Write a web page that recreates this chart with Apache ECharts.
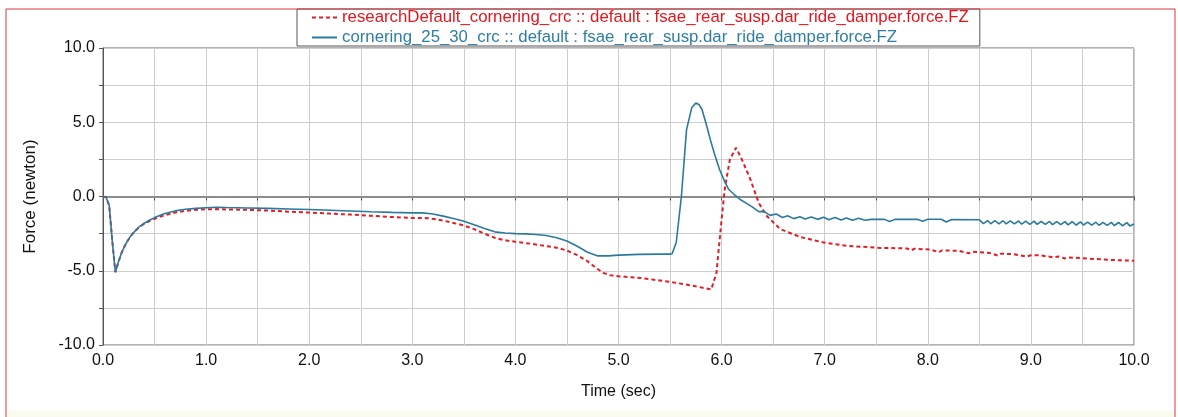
<!DOCTYPE html>
<html>
<head>
<meta charset="utf-8">
<script src="https://cdn.jsdelivr.net/npm/echarts@6/dist/echarts.min.js"></script>
<style>html,body{margin:0;padding:0;background:#fff;}#c{width:1178px;height:417px;}</style>
</head>
<body>
<div id="c"></div>
<script>
const redName = 'researchDefault_cornering_crc :: default : fsae_rear_susp.dar_ride_damper.force.FZ';
const blueName = 'cornering_25_30_crc :: default : fsae_rear_susp.dar_ride_damper.force.FZ';
const xTitle = 'Time (sec)';
const yTitle = 'Force (newton)';

const redTime = [0.00,0.03,0.06,0.09,0.12,0.15,0.18,0.22,0.26,0.30,0.35,0.40,0.45,0.50,0.60,0.70,0.80,0.90,1.00,1.10,1.20,1.40,1.60,1.80,2.00,2.20,2.40,2.60,2.80,3.00,3.15,3.25,3.35,3.50,3.60,3.70,3.80,3.90,4.00,4.15,4.30,4.40,4.50,4.60,4.70,4.78,4.85,4.92,5.00,5.21,5.50,5.70,5.90,5.95,6.00,6.03,6.08,6.14,6.19,6.28,6.36,6.44,6.57,6.76,6.99,7.21,7.54,7.80,7.84,7.87,8.02,8.11,8.14,8.30,8.40,8.43,8.60,8.68,8.71,8.83,8.96,9.00,9.09,9.22,9.27,9.33,9.36,9.48,9.80,10.00];
const redForce = [0,-0.05,-0.6,-3.0,-5.1,-4.4,-3.8,-3.2,-2.75,-2.4,-2.08,-1.83,-1.65,-1.5,-1.25,-1.08,-0.97,-0.9,-0.86,-0.85,-0.87,-0.9,-0.95,-1.02,-1.08,-1.15,-1.22,-1.3,-1.38,-1.44,-1.46,-1.55,-1.7,-1.95,-2.2,-2.5,-2.78,-2.95,-3.05,-3.18,-3.34,-3.45,-3.64,-3.95,-4.36,-4.8,-5.14,-5.3,-5.37,-5.48,-5.75,-5.98,-6.26,-5.14,-1.55,0.47,2.49,3.28,2.6,1.14,-0.43,-1.33,-2.2,-2.72,-3.1,-3.32,-3.46,-3.5,-3.62,-3.52,-3.57,-3.75,-3.62,-3.66,-3.82,-3.72,-3.8,-3.98,-3.85,-3.88,-4.04,-3.96,-3.96,-4.1,-4.04,-4.17,-4.1,-4.15,-4.28,-4.33];

const blueTime = [0.00,0.03,0.06,0.09,0.12,0.15,0.18,0.22,0.26,0.30,0.35,0.40,0.45,0.50,0.60,0.70,0.80,0.90,1.00,1.10,1.20,1.40,1.60,1.80,2.00,2.20,2.40,2.60,2.80,3.00,3.10,3.20,3.30,3.40,3.50,3.60,3.70,3.80,3.90,4.00,4.10,4.20,4.30,4.40,4.50,4.60,4.70,4.80,4.90,5.00,5.20,5.40,5.50,5.52,5.56,5.61,5.66,5.71,5.75,5.78,5.81,5.85,5.89,5.93,5.98,6.03,6.07,6.12,6.18,6.25,6.30,6.36,6.41,6.47,6.53,6.59,6.64,6.70,6.76,6.81,6.87,6.93,6.99,7.04,7.10,7.16,7.21,7.27,7.33,7.39,7.45,7.58,7.63,7.68,7.90,7.95,8.00,8.13,8.18,8.23,8.50,8.54,8.58,8.61,8.65,8.69,8.73,8.76,8.80,8.84,8.88,8.91,8.95,8.99,9.03,9.06,9.10,9.14,9.18,9.21,9.25,9.29,9.33,9.36,9.40,9.44,9.48,9.51,9.55,9.59,9.63,9.66,9.70,9.74,9.78,9.81,9.85,9.89,9.93,9.96,10.00];
const blueForce = [0,-0.05,-0.6,-3.0,-5.1,-4.4,-3.8,-3.2,-2.75,-2.4,-2.05,-1.8,-1.6,-1.42,-1.15,-0.97,-0.86,-0.8,-0.76,-0.72,-0.74,-0.77,-0.8,-0.84,-0.88,-0.93,-0.98,-1.03,-1.07,-1.1,-1.1,-1.18,-1.32,-1.48,-1.66,-1.9,-2.15,-2.38,-2.46,-2.5,-2.52,-2.56,-2.63,-2.78,-3.0,-3.35,-3.75,-4.0,-4.0,-3.95,-3.9,-3.88,-3.88,-3.85,-3.1,0.0,4.5,5.97,6.3,6.2,5.86,4.9,3.84,2.9,1.82,1.0,0.47,0.15,-0.2,-0.5,-0.72,-1.02,-1.0,-1.27,-1.18,-1.41,-1.30,-1.49,-1.36,-1.52,-1.38,-1.54,-1.40,-1.56,-1.42,-1.58,-1.44,-1.60,-1.46,-1.60,-1.54,-1.54,-1.68,-1.54,-1.53,-1.66,-1.53,-1.53,-1.72,-1.55,-1.57,-1.83,-1.62,-1.84,-1.63,-1.84,-1.63,-1.85,-1.64,-1.85,-1.65,-1.86,-1.66,-1.87,-1.66,-1.88,-1.67,-1.88,-1.68,-1.89,-1.69,-1.90,-1.69,-1.91,-1.70,-1.92,-1.71,-1.92,-1.72,-1.93,-1.73,-1.94,-1.74,-1.95,-1.74,-1.96,-1.75,-1.97,-1.76,-1.98,-1.85];

const xTicks = [0,1,2,3,4,5,6,7,8,9,10];
const yTicks = [-10,-5,0,5,10];

const FONT = "'Liberation Sans', Arial, Helvetica, sans-serif";
const zip = (t, v) => t.map((x, i) => [x, v[i]]);
const isTick = (list, v) => list.some(t => Math.abs(t - v) < 1e-9);

const chart = echarts.init(document.getElementById('c'), null, {renderer: 'canvas'});
chart.setOption({
  animation: false,
  backgroundColor: '#ffffff',
  textStyle: {fontFamily: FONT},
  graphic: [
    {type: 'rect', z: -10, silent: true, shape: {x: 7, y: 411, width: 1167, height: 10}, style: {fill: '#fbfaef'}},
    {type: 'rect', z: 100, silent: true, shape: {x: 6, y: 9, width: 1169, height: 420}, style: {fill: 'none', stroke: '#d9363e', lineWidth: 1}}
  ],
  legend: {
    orient: 'vertical',
    left: 297,
    top: 9,
    padding: [0, 11, 0, 14],
    itemGap: 3,
    itemWidth: 25,
    itemHeight: 16,
    backgroundColor: '#ffffff',
    borderColor: '#555555',
    borderWidth: 1,
    borderRadius: 0,
    itemStyle: {opacity: 0},
    textStyle: {fontFamily: FONT, fontSize: 16.8},
    data: [
      {name: redName, textStyle: {color: '#e3151d'}},
      {name: blueName, textStyle: {color: '#2f7ea2'}}
    ]
  },
  grid: {left: 103, right: 44, top: 48, bottom: 72, show: true, borderColor: '#666666', borderWidth: 1, backgroundColor: 'transparent'},
  xAxis: {
    type: 'value', min: 0, max: 10, interval: 0.5,
    name: xTitle, nameLocation: 'middle', nameGap: 39,
    nameTextStyle: {fontFamily: FONT, fontSize: 16, color: '#111'},
    axisLine: {show: true, lineStyle: {color: '#555', width: 1}},
    axisTick: {show: true, length: 4, lineStyle: {color: '#555'}},
    axisLabel: {fontFamily: FONT, fontSize: 16, color: '#111', margin: 8,
      formatter: v => isTick(xTicks, v) ? v.toFixed(1) : ''},
    splitLine: {show: true, lineStyle: {color: '#cdcdcd', width: 1}}
  },
  yAxis: {
    type: 'value', min: -10, max: 10, interval: 2.5,
    name: yTitle, nameLocation: 'middle', nameGap: 64, nameRotate: 90,
    nameTextStyle: {fontFamily: FONT, fontSize: 17, color: '#111'},
    axisLine: {show: true, lineStyle: {color: '#555', width: 1}},
    axisTick: {show: true, length: 4, lineStyle: {color: '#555'}},
    axisLabel: {fontFamily: FONT, fontSize: 16, color: '#111', margin: 8,
      formatter: v => isTick(yTicks, v) ? v.toFixed(1) : ''},
    splitLine: {show: true, lineStyle: {color: '#cdcdcd', width: 1}}
  },
  series: [
    {
      name: redName, type: 'line', data: zip(redTime, redForce),
      symbol: 'none', smooth: false, z: 3,
      lineStyle: {color: '#e01e26', width: 2, type: [4, 3]},
      itemStyle: {color: '#e01e26'},
      markLine: {
        silent: true, symbol: 'none', label: {show: false}, z: 1,
        lineStyle: {color: '#8c8c8c', width: 2, type: 'solid'},
        data: [{yAxis: 0}]
      }
    },
    {
      name: blueName, type: 'line', data: zip(blueTime, blueForce),
      symbol: 'none', smooth: false, z: 4,
      lineStyle: {color: '#2b7a9e', width: 1.6, type: 'solid'},
      itemStyle: {color: '#2b7a9e'}
    }
  ]
});
</script>
</body>
</html>
